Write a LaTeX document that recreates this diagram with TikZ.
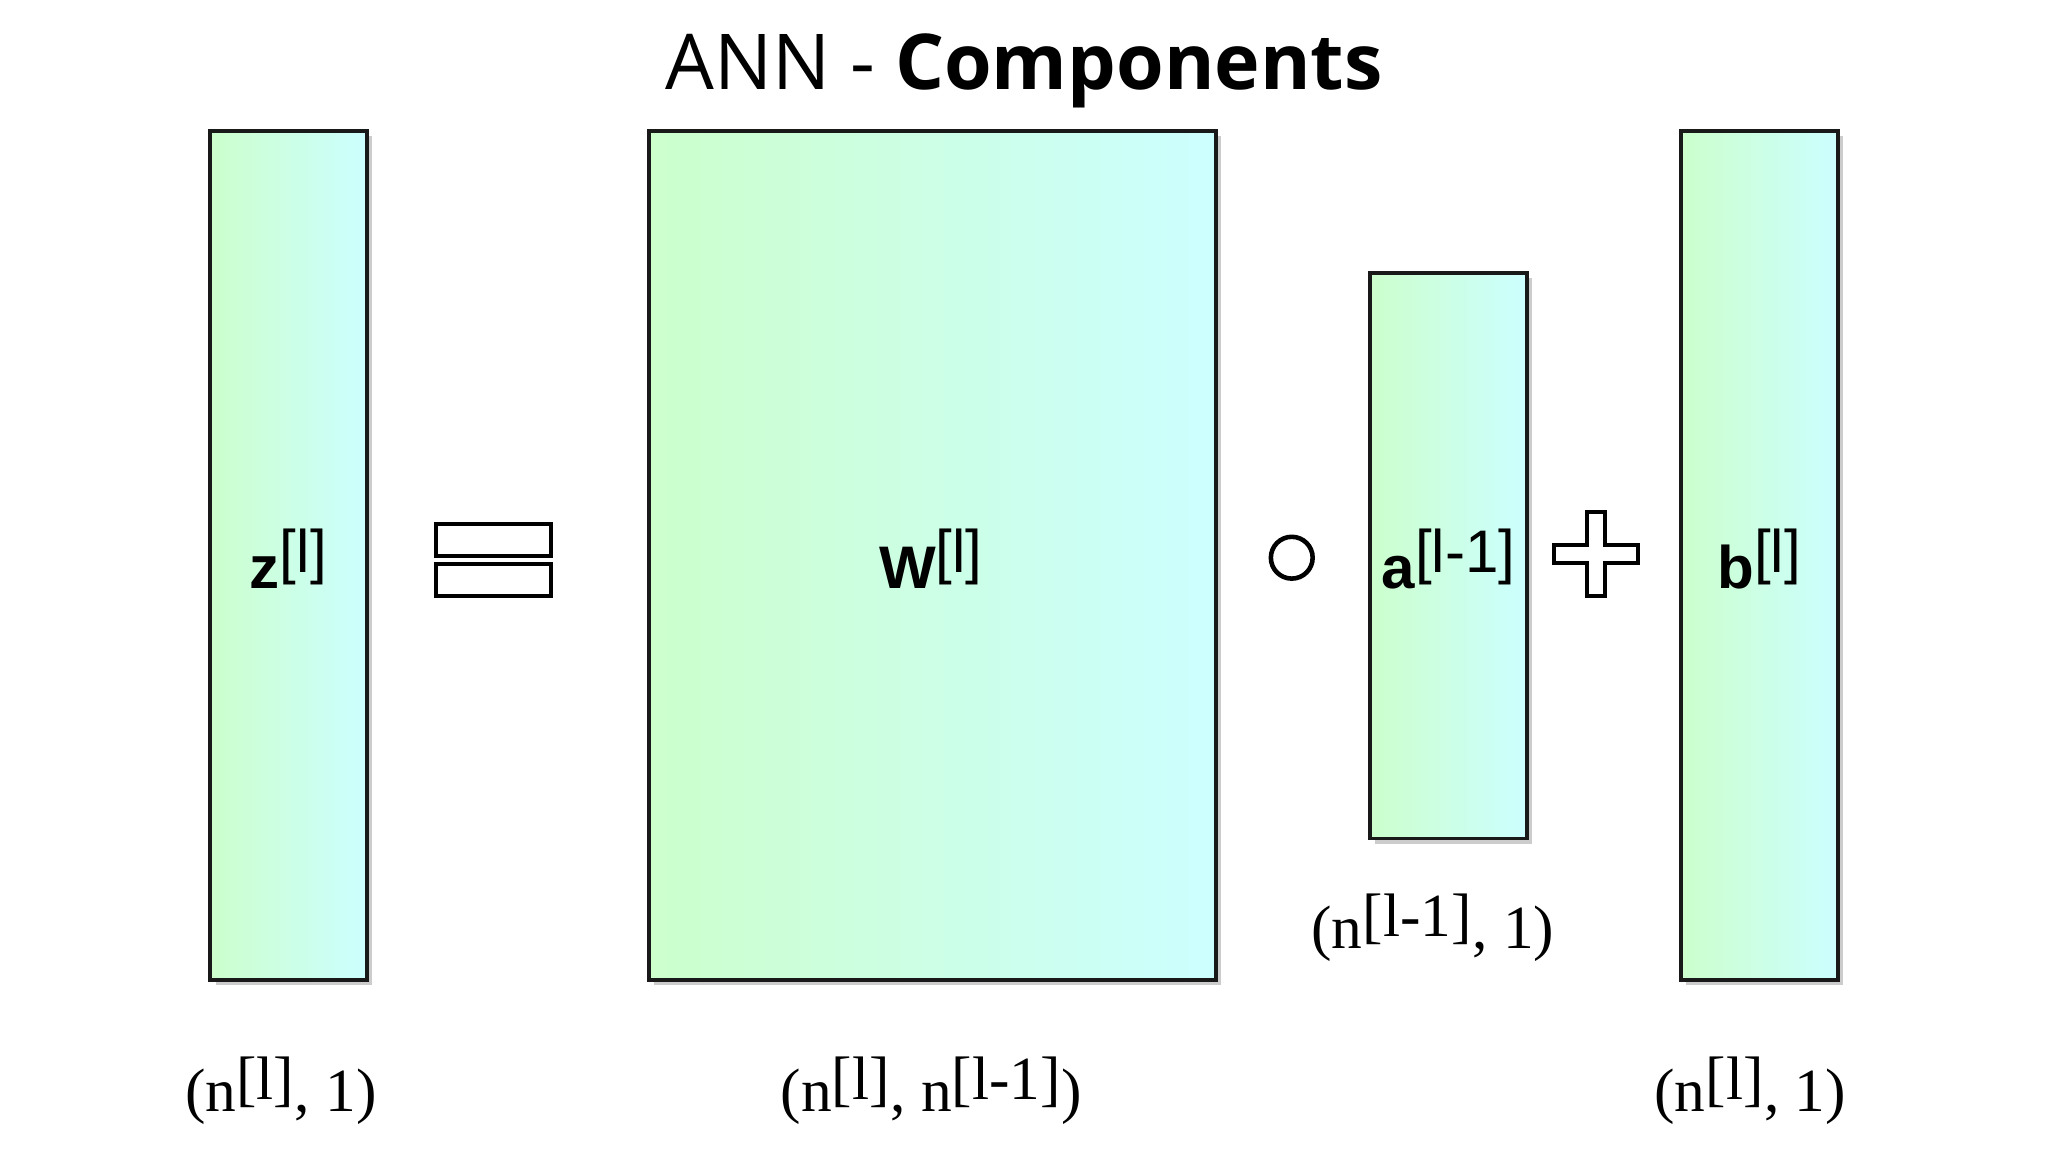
\documentclass[tikz,border=0pt]{standalone}
\usepackage{fontspec}
\setmainfont{Liberation Serif}
\newfontfamily\titlef{Open Sans}
\newfontfamily\boxf{Liberation Sans}
\begin{document}
\begin{tikzpicture}[x=1pt,y=-1pt,
  mat/.style={draw=black!90,line width=3pt,left color=green!20,right color=cyan!20},
  shd/.style={fill=black!20},
  lbl/.style={font=\boxf\fontsize{46}{56}\selectfont},
  dim/.style={font=\fontsize{47}{56}\selectfont}]
\useasboundingbox (0,0) rectangle (1568,882);
\fill[white] (0,0) rectangle (1568,882);
\node[font=\titlef\fontsize{59}{68}\selectfont] (title) at (784,54) {ANN - \textbf{Components}};
\fill[shd] (165,104) rectangle (285,754);
\fill[shd] (501,104) rectangle (935,754);
\fill[shd] (1053,213) rectangle (1173,646);
\fill[shd] (1291,104) rectangle (1411,754);
\path[mat] (161,100) rectangle (281,750);
\path[mat] (497,100) rectangle (931,750);
\path[mat] (1049,209) rectangle (1169,642);
\path[mat] (1287,100) rectangle (1407,750);
\node[lbl] (z) at (221,428) {\textbf{z}$^{\textrm{\boxf[l]}}$};
\node[lbl] (W) at (713,428) {\textbf{W}$^{\textrm{\boxf[l]}}$};
\node[lbl] (a) at (1109,428) {\textbf{a}$^{\textrm{\boxf[l-1]}}$};
\node[lbl] (b) at (1347,428) {\textbf{b}$^{\textrm{\boxf[l]}}$};
\draw[line width=3pt] (334,401) rectangle (422,426);
\draw[line width=3pt] (334,432) rectangle (422,456);
\draw[line width=3.5pt] (989,427) circle (16);
\draw[line width=3pt,fill=white] (1215,392) -- (1229,392) -- (1229,417) -- (1254,417) -- (1254,431) -- (1229,431) -- (1229,456) -- (1215,456) -- (1215,431) -- (1190,431) -- (1190,417) -- (1215,417) -- cycle;
\node[dim] (dz) at (215,835) {(n$^{\textrm{[l]}}$, 1)};
\node[dim] (dW) at (713,835) {(n$^{\textrm{[l]}}$, n$^{\textrm{[l-1]}}$)};
\node[dim] (da) at (1097,710) {(n$^{\textrm{[l-1]}}$, 1)};
\node[dim] (db) at (1340,835) {(n$^{\textrm{[l]}}$, 1)};
\end{tikzpicture}
\end{document}
